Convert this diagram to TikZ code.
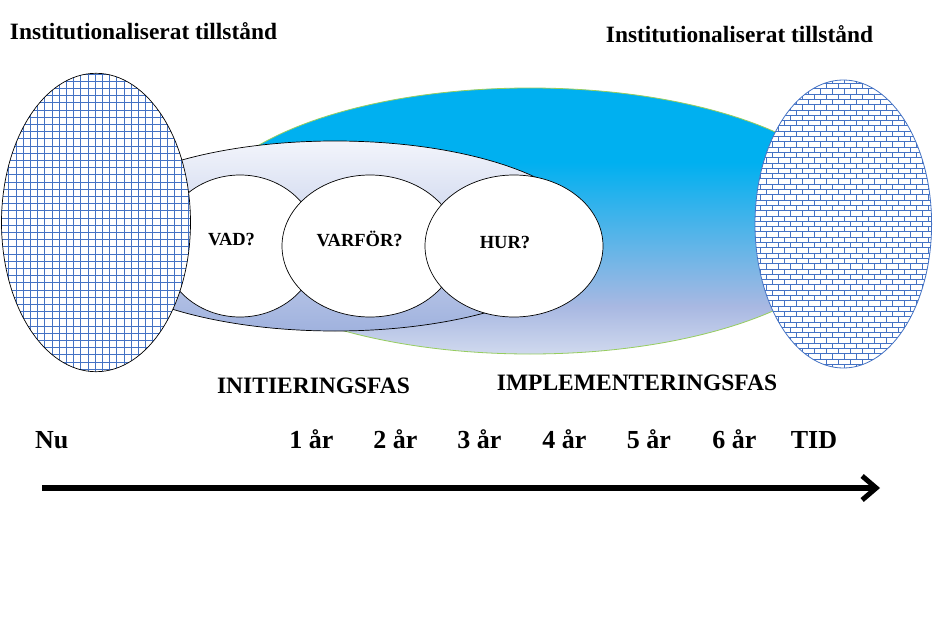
\documentclass[tikz,border=0pt]{standalone}
\usepackage{fontspec}
\setmainfont{Liberation Serif}
\usetikzlibrary{arrows.meta}
\definecolor{cyanblue}{RGB}{0,176,240}
\definecolor{lavender}{RGB}{168,184,226}
\definecolor{palelav}{RGB}{208,217,238}
\definecolor{initop}{RGB}{242,244,251}
\definecolor{inibot}{RGB}{160,178,222}
\definecolor{gridblue}{RGB}{68,114,196}
\definecolor{edgegreen}{RGB}{150,205,95}
\pgfdeclareverticalshading{bigblue}{100bp}{color(0bp)=(palelav); color(25bp)=(palelav); color(34bp)=(lavender); color(61bp)=(cyanblue); color(100bp)=(cyanblue)}
\tikzset{
  lbl/.style={inner sep=0pt, anchor=base, font=\bfseries\fontsize{23.4}{27}\selectfont},
  phase/.style={inner sep=0pt, anchor=base, font=\bfseries\fontsize{23.5}{27}\selectfont},
  tick/.style={inner sep=0pt, anchor=base, font=\bfseries\fontsize{26}{30}\selectfont},
  qtext/.style={inner sep=0pt, anchor=base, font=\bfseries\fontsize{18.5}{21}\selectfont},
  bubble/.style={draw=black, line width=0.7pt, fill=white},
}
\begin{document}
\begin{tikzpicture}[x=1pt,y=-1pt]
\useasboundingbox[fill=white] (0,0) rectangle (940,626);
% big implementation shape
\path[shading=bigblue, draw=edgegreen, line width=0.8pt] (530,221) ellipse [x radius=330, y radius=133];
% initiation shape
\path[draw=black, line width=0.7pt, top color=initop, bottom color=inibot] (335,236) ellipse [x radius=255, y radius=95];
% question bubbles
\path[bubble] (240,246) ellipse [x radius=78, y radius=71];
\path[bubble] (370,246) ellipse [x radius=88, y radius=71];
\path[bubble] (514,246) ellipse [x radius=89, y radius=71];
% left ellipse with grid
\begin{scope}
\clip (96,222.5) ellipse [x radius=94.5, y radius=149.2];
\fill[white] (0,70) rectangle (195,375);
\foreach \i in {0,...,27} \draw[gridblue, line width=0.8pt] ({1.5+\i*7.2},70) -- ++(0,306);
\foreach \j in {0,...,42} \draw[gridblue, line width=0.8pt] (0,{74+\j*7.2}) -- ++(196,0);
\end{scope}
\draw[black, line width=0.7pt] (96,222.5) ellipse [x radius=94.5, y radius=149.2];
% right ellipse with bricks
\begin{scope}
\clip (843.3,224) ellipse [x radius=88.3, y radius=144];
\fill[white] (750,75) rectangle (935,372);
\foreach \r in {0,...,56} {
  \pgfmathsetmacro{\yy}{78+\r*5.3}
  \pgfmathsetmacro{\off}{mod(\r,2)*6}
  \draw[gridblue, line width=0.6pt] (750,\yy) -- (935,\yy);
  \foreach \k in {0,...,16} {
    \draw[gridblue, line width=0.6pt] ({748+\off+\k*12},\yy) -- ++(0,5.3);
  }
}
\end{scope}
\draw[gridblue, line width=0.8pt] (843.3,224) ellipse [x radius=88.3, y radius=144];
% texts
\node[lbl] (titleL) at (143.5,40) {Institutionaliserat tillstånd};
\node[lbl] (titleR) at (739.5,43) {Institutionaliserat tillstånd};
\node[qtext] (vad) at (231.5,245.5) {VAD?};
\node[qtext] (varfor) at (359.7,246.5) {VARFÖR?};
\node[qtext] (hur) at (505,248) {HUR?};
\node[phase] (init) at (313.5,393) {INITIERINGSFAS};
\node[phase] (impl) at (637,390) {IMPLEMENTERINGSFAS};
\node[tick, anchor=base west] (nu) at (35,448) {Nu};
\node[tick] (y1) at (311.5,448) {1 år};
\node[tick] (y2) at (395.5,448) {2 år};
\node[tick] (y3) at (479.5,448) {3 år};
\node[tick] (y4) at (564.5,448) {4 år};
\node[tick] (y5) at (649,448) {5 år};
\node[tick] (y6) at (734.5,448) {6 år};
\node[tick] (tid) at (814,448) {TID};
% time arrow
\coordinate (arrS) at (42,488);
\coordinate (arrE) at (880,488);
\draw[line width=6pt, -{Straight Barb[length=14pt, width=24pt, line width=5pt]}] (arrS) -- (arrE);
\end{tikzpicture}
\end{document}
